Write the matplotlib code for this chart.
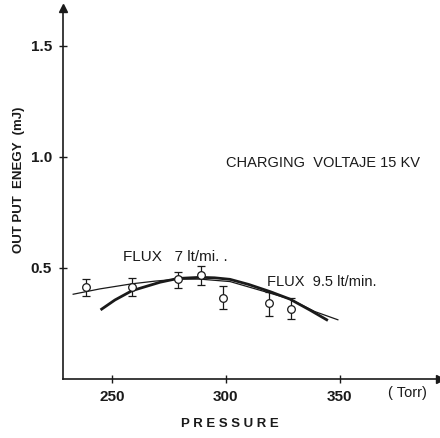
import matplotlib.pyplot as plt

# measured points (pressure in Torr, energy in mJ)
pressure = [238.6, 258.9, 279.0, 288.9, 298.8, 319.0, 328.5]
energy = [0.414, 0.413, 0.449, 0.468, 0.366, 0.341, 0.315]
err_low = [0.040, 0.039, 0.041, 0.045, 0.051, 0.056, 0.046]
err_high = [0.036, 0.041, 0.034, 0.038, 0.050, 0.049, 0.048]

# hand-drawn fit curves
thin_p = [233.0, 244.7, 258.8, 268.9, 278.9, 288.6, 301.8, 319.3, 328.1, 339.0, 349.1]
thin_e = [0.381, 0.405, 0.428, 0.440, 0.449, 0.449, 0.438, 0.386, 0.359, 0.303, 0.266]
thick_p = [245.5, 251.3, 258.8, 271.1, 278.9, 288.6, 295.0, 301.8, 310.0, 319.3, 328.1, 336.8, 344.2]
thick_e = [0.314, 0.355, 0.397, 0.435, 0.452, 0.457, 0.455, 0.448, 0.425, 0.393, 0.359, 0.310, 0.266]

xticks = [250, 300, 350]
yticks = [0.5, 1.0, 1.5]

ink = "#1a1a1a"
plt.rcParams['font.family'] = ['Liberation Sans', 'DejaVu Sans']

fig = plt.figure(figsize=(4.4, 4.38), dpi=100)
ax = fig.add_axes([0.143, 0.135, 0.857, 0.847])
ax.set_xlim(228.5, 393.9)
ax.set_ylim(0, 1.67)

ax.plot(thin_p, thin_e, color=ink, lw=0.9)
ax.plot(thick_p, thick_e, color=ink, lw=2.0, solid_joinstyle='round')
ax.errorbar(pressure, energy, yerr=[err_low, err_high], fmt='o', mfc='white',
            mec=ink, mew=0.9, ms=5.5, ecolor=ink, elinewidth=0.9, capsize=3, capthick=0.9)

for s in ['top', 'right']:
    ax.spines[s].set_visible(False)
for s in ['left', 'bottom']:
    ax.spines[s].set_color(ink)
    ax.spines[s].set_linewidth(1.2)
ax.plot(1, 0, '>', color=ink, ms=6, transform=ax.transAxes, clip_on=False)
ax.plot(0, 1, '^', color=ink, ms=6, transform=ax.transAxes, clip_on=False)

ax.set_xticks(xticks)
ax.set_xticklabels([str(t) for t in xticks], fontweight='bold')
ax.set_yticks(yticks)
ax.set_yticklabels(['%.1f' % t for t in yticks], fontweight='bold')
ax.tick_params(direction='inout', length=6, width=1, colors=ink, labelsize=11, pad=5)

ax.set_xlabel('P R E S S U R E', fontsize=9.5, color=ink, fontweight='bold')
ax.xaxis.set_label_coords(0.443, -0.105)
ax.set_ylabel('OUT PUT  ENEGY  (mJ)', fontsize=9.5, color=ink, fontweight='bold')
ax.yaxis.set_label_coords(-0.10, 0.536)

ax.text(379.4, -0.065, '( Torr)', fontsize=10.5, color=ink, ha='center', va='center', clip_on=False)
ax.text(300, 0.973, 'CHARGING  VOLTAJE 15 KV', fontsize=10.5, color=ink, va='center')
ax.text(255, 0.55, 'FLUX   7 lt/mi. .', fontsize=11, color=ink, va='center')
ax.text(318, 0.437, 'FLUX  9.5 lt/min.', fontsize=10.5, color=ink, va='center')

fig.savefig('out.png', dpi=100)
